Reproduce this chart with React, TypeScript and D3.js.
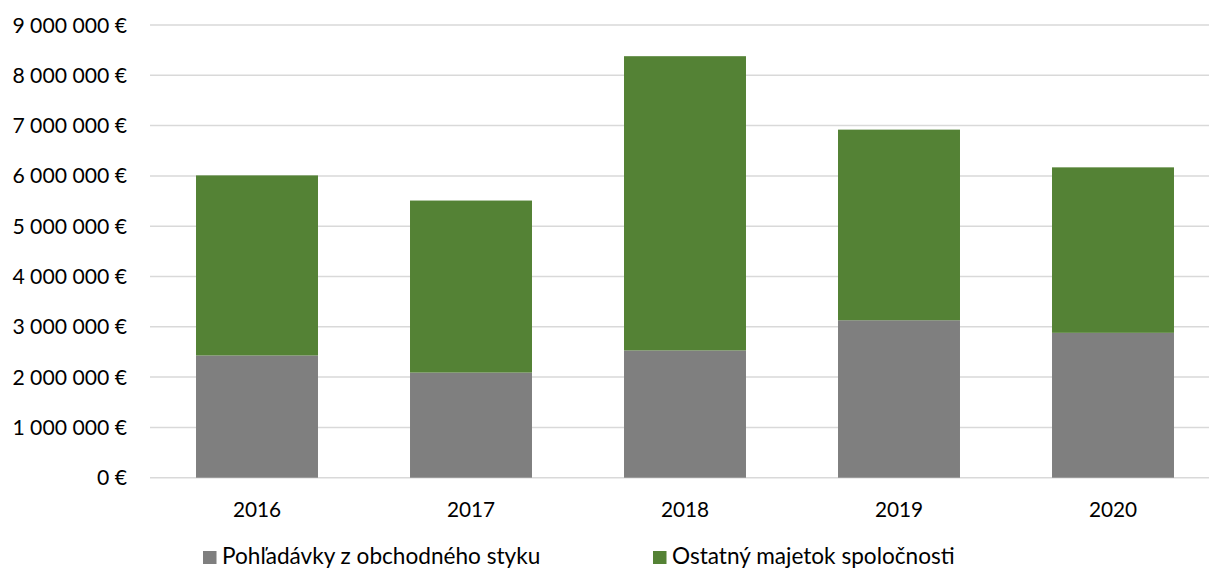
import React from "react";
import * as d3 from "d3";

const years = ["2016", "2017", "2018", "2019", "2020"];
const receivables = [2430000, 2090000, 2530000, 3130000, 2880000];
const otherAssets = [3580000, 3420000, 5850000, 3790000, 3290000];
const yTicks = [0, 1000000, 2000000, 3000000, 4000000, 5000000, 6000000, 7000000, 8000000, 9000000];
const seriesNames = ["Pohľadávky z obchodného styku", "Ostatný majetok spoločnosti"];
const colors = ["#7f7f7f", "#548235"];

const W = 1209;
const H = 568;
const FONT = "Lato, 'Open Sans', sans-serif";

function fmt(v: number) {
  if (v === 0) return "0 €";
  const s = String(v).replace(/\B(?=(\d{3})+(?!\d))/g, " ");
  return s + " €";
}

export default function App() {
  const x = d3.scaleBand<string>().domain(years).range([150, 1220]).paddingInner(0.43).paddingOuter(0.215);
  const y = d3.scaleLinear().domain([0, 9000000]).range([477.7, 25]);

  const data = years.map((yr, i) => ({ year: yr, a: receivables[i], b: otherAssets[i] }));
  const stack = d3.stack<any>().keys(["a", "b"])(data);

  return (
    <svg width={W} height={H} style={{ position: "absolute", left: 0, top: 0, background: "#fff" }}>
      <rect x={0} y={0} width={W} height={H} fill="#fff" />
      {yTicks.map((t) => (
        <g key={t}>
          <line x1={150} x2={W} y1={y(t)} y2={y(t)} stroke="#d9d9d9" strokeWidth={1.5} />
          <text x={127} y={y(t) + 7.5} textAnchor="end" fontFamily={FONT} fontSize={21.2} fill="#000">
            {fmt(t)}
          </text>
        </g>
      ))}
      {stack.map((layer, si) =>
        layer.map((d, i) => (
          <rect
            key={si + "-" + i}
            x={x(years[i])}
            width={x.bandwidth()}
            y={y(d[1])}
            height={y(d[0]) - y(d[1])}
            fill={colors[si]}
          />
        ))
      )}
      {years.map((yr) => (
        <text key={yr} x={(x(yr) as number) + x.bandwidth() / 2} y={516.5} textAnchor="middle" fontFamily={FONT} fontSize={20.8} fill="#000">
          {yr}
        </text>
      ))}
      {seriesNames.map((n, i) => {
        const lx = i === 0 ? 203 : 653;
        return (
          <g key={n}>
            <rect x={lx} y={551} width={13.5} height={13} fill={colors[i]} />
            <text x={lx + 19} y={564} fontFamily={FONT} fontSize={22.6} fill="#000">
              {n}
            </text>
          </g>
        );
      })}
    </svg>
  );
}
